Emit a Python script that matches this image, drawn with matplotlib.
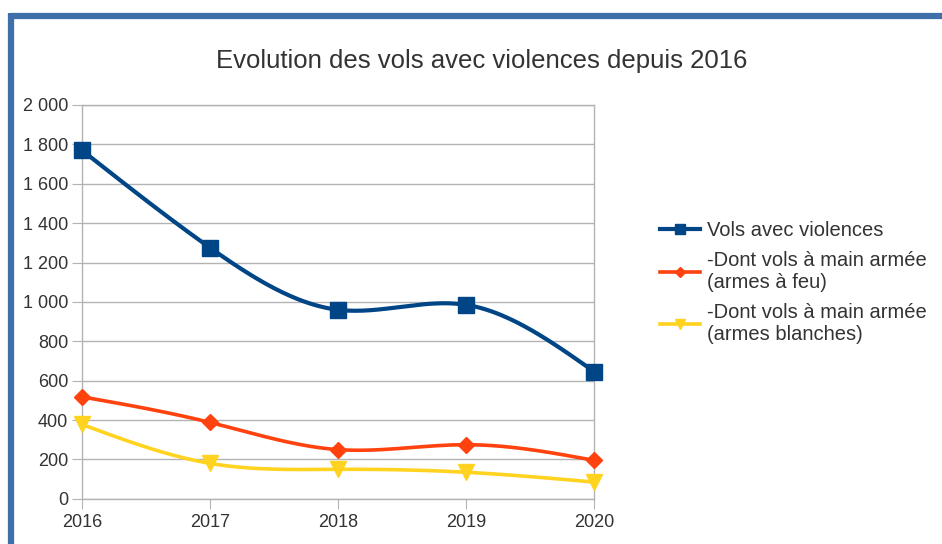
import numpy as np
import matplotlib.pyplot as plt
from matplotlib.lines import Line2D

plt.rcParams['font.family'] = ['Liberation Sans', 'DejaVu Sans']

years = [2016, 2017, 2018, 2019, 2020]
vols_violences = [1770, 1275, 960, 985, 645]
armes_feu = [518, 388, 250, 275, 195]
armes_blanches = [378, 180, 150, 135, 85]

labels = ["Vols avec violences",
          "-Dont vols à main armée\n(armes à feu)",
          "-Dont vols à main armée\n(armes blanches)"]
colors = ["#004586", "#ff420e", "#ffd320"]
markers = ["s", "D", "v"]
msizes = [11, 8, 11]
yticks = [0, 200, 400, 600, 800, 1000, 1200, 1400, 1600, 1800, 2000]


def spline(x, y, n=200):
    # natural cubic spline, just for the smooth look of the curves
    x = np.asarray(x, float)
    y = np.asarray(y, float)
    k = len(x)
    h = np.diff(x)
    A = np.zeros((k, k))
    b = np.zeros(k)
    A[0, 0] = A[-1, -1] = 1
    for i in range(1, k - 1):
        A[i, i - 1] = h[i - 1]
        A[i, i] = 2 * (h[i - 1] + h[i])
        A[i, i + 1] = h[i]
        b[i] = 6 * ((y[i + 1] - y[i]) / h[i] - (y[i] - y[i - 1]) / h[i - 1])
    M = np.linalg.solve(A, b)
    xs = np.linspace(x[0], x[-1], n)
    ys = np.empty_like(xs)
    for j, t in enumerate(xs):
        i = min(np.searchsorted(x, t, side="right") - 1, k - 2)
        a = x[i + 1] - t
        c = t - x[i]
        ys[j] = (M[i] * a ** 3 + M[i + 1] * c ** 3) / (6 * h[i]) \
            + (y[i] / h[i] - M[i] * h[i] / 6) * a \
            + (y[i + 1] / h[i] - M[i + 1] * h[i] / 6) * c
    return xs, ys


fig = plt.figure(figsize=(9.42, 5.44), dpi=100)
ax = fig.add_axes([0.087, 0.083, 0.544, 0.724])

handles = []
for data, lab, col, mk, ms in zip([vols_violences, armes_feu, armes_blanches],
                                  labels, colors, markers, msizes):
    xs, ys = spline(years, data)
    lw = 3 if col == "#004586" else 2.6
    ax.plot(xs, ys, color=col, lw=lw, zorder=3)
    ax.plot(years, data, ls="none", marker=mk, ms=ms, color=col, zorder=4,
            clip_on=False)
    handles.append(Line2D([], [], color=col, lw=lw, marker=mk, ms=ms * 0.7))

ax.set_xlim(2016, 2020)
ax.set_ylim(0, 2000)
ax.set_xticks(years)
ax.set_yticks(yticks)
ax.set_yticklabels([f"{v:,}".replace(",", " ") for v in yticks])
ax.grid(axis="y", color="#b3b3b3", lw=1)
for s in ax.spines.values():
    s.set_color("#b3b3b3")
    s.set_linewidth(1)
ax.tick_params(colors="#b3b3b3", labelcolor="#333333", labelsize=13, length=7)
ax.tick_params(axis="y", pad=3)
ax.tick_params(axis="x", pad=4)

fig.text(0.511, 0.888, "Evolution des vols avec violences depuis 2016",
         ha="center", va="center", fontsize=18.5, color="#333333")

fig.legend(handles, labels, loc="upper left", bbox_to_anchor=(0.692, 0.608),
           frameon=False, fontsize=14.5, handlelength=2.0, handletextpad=0.35,
           labelspacing=0.55, labelcolor="#333333", borderaxespad=0)

# blue frame of the chart (top and left edges visible)
fig.add_artist(Line2D([0.0122, 1.0], [0.97, 0.97], color="#3f6fa8", lw=4.5,
                      transform=fig.transFigure, solid_capstyle="butt"))
fig.add_artist(Line2D([0.0122, 0.0122], [0.0, 0.976], color="#3f6fa8", lw=4.5,
                      transform=fig.transFigure, solid_capstyle="butt"))

fig.savefig("out.png", dpi=100)
